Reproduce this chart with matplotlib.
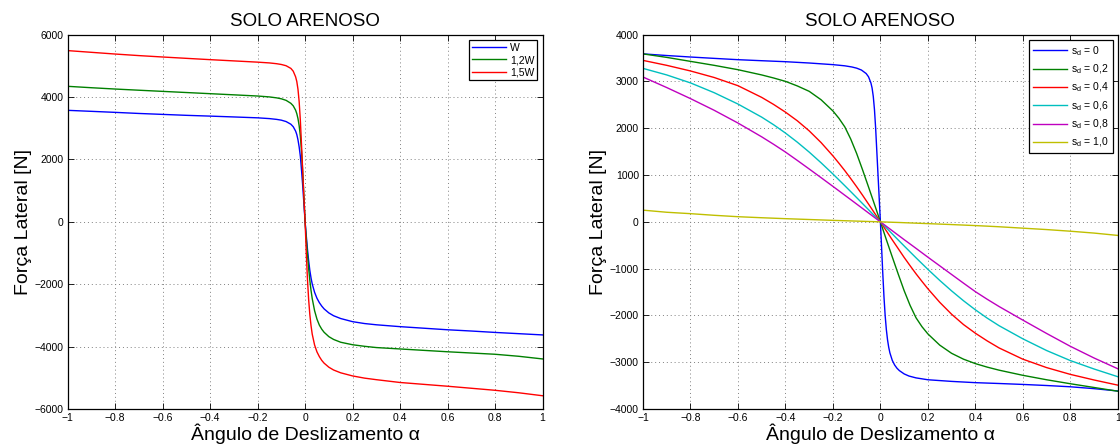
import matplotlib
matplotlib.use("Agg")
import matplotlib.pyplot as plt

plt.rcParams['font.family'] = ['Liberation Sans', 'DejaVu Sans']
plt.rcParams['mathtext.fontset'] = 'custom'
plt.rcParams['mathtext.rm'] = 'Liberation Sans'
plt.rcParams['mathtext.it'] = 'Liberation Sans'

# ---------------- data: left panel (load variation) ----------------
x_left = [-1, -0.9, -0.8, -0.7, -0.6, -0.5, -0.4, -0.3, -0.2, -0.15, -0.12, -0.1, -0.08,
          -0.06, -0.05, -0.04, -0.035, -0.03, -0.025, -0.02, -0.015, -0.01, -0.005, 0,
          0.005, 0.01, 0.015, 0.02, 0.025, 0.03, 0.04, 0.05, 0.06, 0.07, 0.08, 0.1, 0.12,
          0.15, 0.2, 0.25, 0.3, 0.4, 0.5, 0.6, 0.7, 0.8, 0.9, 1]
F_W = [3575, 3543, 3510, 3475, 3445, 3415, 3390, 3363, 3335, 3310, 3285, 3260, 3215,
       3130, 3050, 2910, 2800, 2630, 2400, 2100, 1650, 1150, 580, 0,
       -450, -880, -1250, -1560, -1800, -1990, -2260, -2450, -2590, -2700, -2790, -2920, -3010,
       -3100, -3200, -3260, -3300, -3360, -3410, -3460, -3500, -3545, -3585, -3625]
F_12W = [4345, 4300, 4258, 4220, 4183, 4146, 4109, 4072, 4034, 4005, 3975, 3945, 3895,
         3800, 3720, 3580, 3470, 3310, 3080, 2750, 2250, 1600, 820, 0,
         -550, -1050, -1500, -1880, -2200, -2460, -2850, -3120, -3310, -3440, -3540, -3680, -3770,
         -3860, -3940, -3990, -4030, -4075, -4120, -4165, -4205, -4245, -4310, -4395]
F_15W = [5490, 5435, 5380, 5330, 5285, 5242, 5200, 5160, 5120, 5095, 5070, 5045, 5005,
         4920, 4830, 4650, 4500, 4250, 3850, 3250, 2450, 1600, 780, 0,
         -1000, -1850, -2500, -2980, -3330, -3600, -3950, -4170, -4320, -4440, -4530, -4660, -4750,
         -4840, -4940, -5010, -5060, -5150, -5210, -5270, -5335, -5400, -5480, -5575]
labels_left = ['W', '1,2W', '1,5W']

# ---------------- data: right panel (slip variation) ----------------
x_sd0 = [-1, -0.9, -0.8, -0.7, -0.6, -0.5, -0.4, -0.3, -0.2, -0.15, -0.12, -0.1, -0.08,
         -0.06, -0.05, -0.04, -0.035, -0.03, -0.025, -0.02, -0.015, -0.01, -0.005, 0,
         0.005, 0.01, 0.015, 0.02, 0.025, 0.03, 0.035, 0.04, 0.05, 0.06, 0.07, 0.08, 0.1,
         0.12, 0.15, 0.2, 0.3, 0.4, 0.5, 0.6, 0.7, 0.8, 0.9, 1]
F_sd0 = [3590, 3555, 3523, 3494, 3466, 3444, 3423, 3395, 3360, 3335, 3310, 3285, 3245,
         3170, 3100, 2970, 2860, 2680, 2400, 2000, 1500, 1000, 500, 0,
         -550, -1100, -1600, -2000, -2300, -2520, -2680, -2800, -2960, -3060, -3130, -3180, -3250,
         -3295, -3335, -3375, -3410, -3437, -3455, -3475, -3498, -3525, -3565, -3615]

x_sd = [-1, -0.9, -0.8, -0.7, -0.6, -0.5, -0.45, -0.4, -0.35, -0.3, -0.25, -0.2, -0.175,
        -0.15, -0.125, -0.1, -0.075, -0.05, -0.025, 0, 0.025, 0.05, 0.075, 0.1, 0.125, 0.15,
        0.175, 0.2, 0.25, 0.3, 0.35, 0.4, 0.45, 0.5, 0.6, 0.7, 0.8, 0.9, 1]
F_sd02 = [3590, 3515, 3430, 3345, 3252, 3140, 3075, 3003, 2905, 2790, 2610, 2370, 2215,
          2030, 1770, 1460, 1110, 745, 375, 0, -380, -750, -1115, -1470, -1785, -2050,
          -2240, -2395, -2635, -2810, -2935, -3030, -3105, -3170, -3280, -3375, -3460, -3540, -3620]
F_sd04 = [3451, 3345, 3225, 3085, 2910, 2660, 2510, 2345, 2160, 1945, 1695, 1410, 1255,
          1095, 925, 750, 568, 380, 190, 0, -192, -385, -572, -760, -937, -1110,
          -1272, -1430, -1720, -1975, -2195, -2380, -2545, -2695, -2935, -3115, -3260, -3380, -3490]
F_sd06 = [3280, 3140, 2970, 2760, 2518, 2238, 2076, 1898, 1703, 1491, 1263, 1023, 898,
          773, 646, 518, 389, 260, 130, 0, -129, -258, -387, -515, -642, -768,
          -892, -1015, -1252, -1476, -1686, -1880, -2058, -2220, -2500, -2750, -2965, -3145, -3310]
F_sd08 = [3095, 2870, 2634, 2384, 2112, 1817, 1658, 1492, 1313, 1130, 945, 758, 664,
          569, 475, 380, 285, 190, 95, 0, -95, -190, -285, -380, -473, -566,
          -661, -755, -940, -1125, -1310, -1492, -1655, -1810, -2100, -2385, -2660, -2910, -3140]
F_sd10 = [250, 205, 175, 140, 110, 88, 78, 68, 59, 50, 41, 32, 28,
          24, 20, 16, 12, 8, 4, 0, -4, -9, -13, -18, -23, -28,
          -33, -38, -48, -58, -69, -80, -92, -105, -135, -165, -200, -240, -290]
labels_right = [r'$\mathregular{s_d}$ = 0', r'$\mathregular{s_d}$ = 0,2', r'$\mathregular{s_d}$ = 0,4',
                r'$\mathregular{s_d}$ = 0,6', r'$\mathregular{s_d}$ = 0,8', r'$\mathregular{s_d}$ = 1,0']

x_ticks = [-1, -0.8, -0.6, -0.4, -0.2, 0, 0.2, 0.4, 0.6, 0.8, 1]
x_ticklabels = ['\u22121', '\u22120.8', '\u22120.6', '\u22120.4', '\u22120.2', '0',
                '0.2', '0.4', '0.6', '0.8', '1']
y_ticks_left = [-6000, -4000, -2000, 0, 2000, 4000, 6000]
y_ticks_right = [-4000, -3000, -2000, -1000, 0, 1000, 2000, 3000, 4000]

# MATLAB colours
C_B = (0, 0, 1)
C_G = (0, 0.5, 0)
C_R = (1, 0, 0)
C_C = (0, 0.75, 0.75)
C_M = (0.75, 0, 0.75)
C_Y = (0.75, 0.75, 0)

W, H = 1120, 448
fig = plt.figure(figsize=(W / 100, H / 100), dpi=100)
ax1 = fig.add_axes([67.7 / W, (H - 409) / H, 474.8 / W, 374.3 / H])
ax2 = fig.add_axes([643 / W, (H - 409) / H, 474.8 / W, 374.3 / H])


def style(ax, yticks, ylim):
    ax.set_xlim(-1, 1)
    ax.set_ylim(*ylim)
    ax.set_xticks(x_ticks)
    ax.set_xticklabels(x_ticklabels)
    ax.set_yticks(yticks)
    ax.set_yticklabels([('\u2212' + str(-v)) if v < 0 else str(v) for v in yticks])
    ax.tick_params(direction='in', length=4, width=0.6, top=True, right=True,
                   labelsize=7.5, pad=3)
    ax.grid(True, linestyle=(0, (1, 3)), color='0.5', linewidth=0.7)
    for s in ax.spines.values():
        s.set_linewidth(0.9)
    ax.set_title('SOLO ARENOSO', fontsize=13.5, pad=6)
    ax.set_xlabel('\u00c2ngulo de Deslizamento \u03b1', fontsize=14, labelpad=0)
    ax.set_ylabel('For\u00e7a Lateral [N]', fontsize=14, labelpad=2)


lw = 1.0
ax1.plot(x_left, F_W, color=C_B, lw=lw, label=labels_left[0])
ax1.plot(x_left, F_12W, color=C_G, lw=lw, label=labels_left[1])
ax1.plot(x_left, F_15W, color=C_R, lw=lw, label=labels_left[2])
style(ax1, y_ticks_left, (-6000, 6000))
leg1 = ax1.legend(loc='upper right', fontsize=7.5, frameon=True, fancybox=False,
                  edgecolor='black', framealpha=1, borderaxespad=0.5, handlelength=3.2,
                  labelspacing=0.2, borderpad=0.3, handletextpad=0.4)
leg1.get_frame().set_linewidth(0.9)

ax2.plot(x_sd0, F_sd0, color=C_B, lw=lw, label=labels_right[0])
ax2.plot(x_sd, F_sd02, color=C_G, lw=lw, label=labels_right[1])
ax2.plot(x_sd, F_sd04, color=C_R, lw=lw, label=labels_right[2])
ax2.plot(x_sd, F_sd06, color=C_C, lw=lw, label=labels_right[3])
ax2.plot(x_sd, F_sd08, color=C_M, lw=lw, label=labels_right[4])
ax2.plot(x_sd, F_sd10, color=C_Y, lw=lw, label=labels_right[5])
style(ax2, y_ticks_right, (-4000, 4000))
leg2 = ax2.legend(loc='upper right', fontsize=7.5, frameon=True, fancybox=False,
                  edgecolor='black', framealpha=1, borderaxespad=0.5, handlelength=3.2,
                  labelspacing=0.45, borderpad=0.4, handletextpad=0.4)
leg2.get_frame().set_linewidth(0.9)

fig.savefig('out.png', dpi=100)
